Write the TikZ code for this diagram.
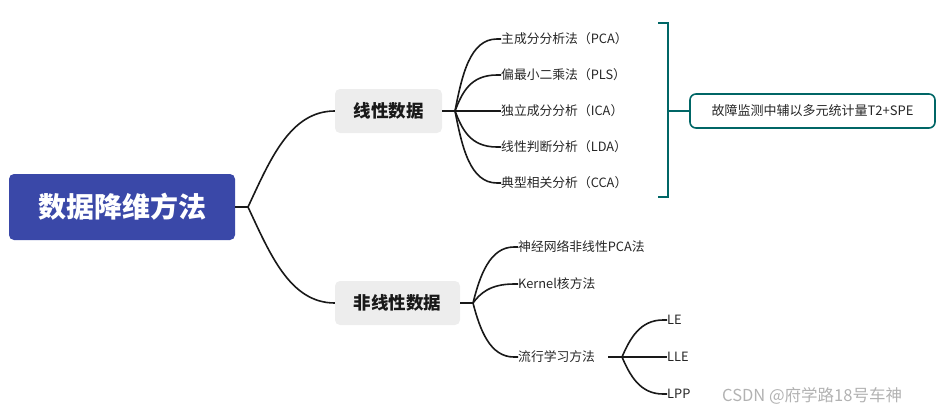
\documentclass[tikz,border=0pt]{standalone}
\usepackage{fontspec}
\setmainfont{Noto Sans CJK SC}
\begin{document}
\begin{tikzpicture}[x=1pt,y=-1pt,
  line/.style={line width=1.6pt,draw=black!90},
  leaf/.style={anchor=west,inner sep=0pt,font=\fontsize{12.8}{14}\selectfont,text=black!85},
  sub/.style={fill=black!7,rounded corners=5pt,font=\bfseries\fontsize{17.5}{19}\selectfont,text=black!90,inner sep=0pt},
  br/.style={line width=1.8pt,draw=teal!80!black}]
\useasboundingbox (0,0) rectangle (950,416);
\definecolor{rootc}{RGB}{58,72,168}
\node[fill=rootc,rounded corners=5pt,minimum width=226pt,minimum height=66pt,inner sep=0pt,text=white,font=\bfseries\fontsize{28}{30}\selectfont] (root) at (122,207) {数据降维方法};
\node[sub,minimum width=107pt,minimum height=44pt] (lin) at (388.5,111) {线性数据};
\node[sub,minimum width=125pt,minimum height=44pt] (non) at (397.5,303) {非线性数据};
\coordinate (f0) at (248,207);
\draw[line] (root.east) -- (f0);
\draw[line] (f0) .. controls (270,160) and (290,111) .. (lin.west);
\draw[line] (f0) .. controls (270,254) and (290,303) .. (non.west);
% linear leaves
\coordinate (f1) at (455,111);
\draw[line] (lin.east) -- (f1);
\foreach \y/\t/\n in {39/主成分分析法（PCA）/a,75/偏最小二乘法（PLS）/b,111/独立成分分析（ICA）/c,147/线性判断分析（LDA）/d,183/典型相关分析（CCA）/e}{
  \node[leaf] (\n) at (501,\y) {\t};
  \draw[line] (f1) .. controls (462,111+0.5*\y-55.5) and (470,\y) .. (497,\y) -- (\n.west);
}
% bracket
\coordinate (b1) at (658,23); \coordinate (b2) at (658,197);
\draw[br] (b1) -- (668,23) -- (668,197) -- (b2);
\node[draw=teal!80!black,line width=1.6pt,rounded corners=6pt,minimum width=245pt,minimum height=34pt,inner sep=0pt,font=\fontsize{13}{14}\selectfont,text=black!85] (fd) at (812.5,111) {故障监测中辅以多元统计量T2+SPE};
\draw[br] (668,111) -- (fd.west);
% nonlinear leaves
\coordinate (f2) at (473,303);
\draw[line] (non.east) -- (f2);
\foreach \y/\t/\n in {247/神经网络非线性PCA法/g,284/Kernel核方法/h,357/流行学习方法/m}{
  \node[leaf] (\n) at (518,\y) {\t};
  \draw[line] (f2) .. controls (480,303+0.5*\y-151.5) and (490,\y) .. (514,\y) -- (\n.west);
}
\coordinate (f3) at (622,357);
\draw[line] (608,357) -- (f3);
\foreach \y/\t/\n in {320/LE/p,357/LLE/q,394/LPP/r}{
  \node[leaf] (\n) at (667,\y) {\t};
  \draw[line] (f3) .. controls (630,357+0.5*\y-178.5) and (640,\y) .. (663,\y) -- (\n.west);
}
\node[anchor=west,inner sep=0pt,text=black!30,font=\fontsize{16.5}{18}\selectfont] (wm) at (722,396) {CSDN @府学路18号车神};
\end{tikzpicture}
\end{document}
